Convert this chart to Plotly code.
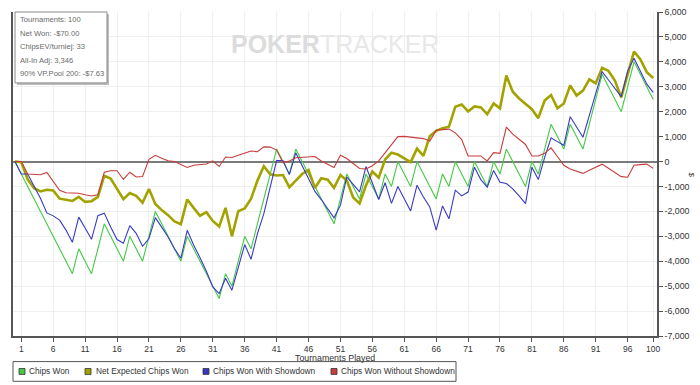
import plotly.graph_objects as go

tournaments = list(range(0, 101))

chips_won = [0, -500, -1000, -1500, -2000, -2500, -3000, -3500, -4000, -4500,
             -3500, -4000, -4500, -3500, -2500, -3000, -3500, -4000, -3000, -3500,
             -4000, -3000, -2000, -2500, -3000, -3500, -4000, -3000, -3500, -4000,
             -4500, -5000, -5500, -4500, -5000, -4000, -3000, -3500, -2500, -1500,
             -500, 500, 0, -500, 500, 0, -500, -1000, -1500, -2000,
             -2500, -1500, -500, -1000, -1500, -500, -1000, -1500, -500, -1000,
             0, -500, -1000, 0, -500, -1000, -1500, -500, -1000, 0,
             -500, -1000, 0, -500, -1000, 0, -500, 500, 0, -500,
             -1000, 0, -500, 500, 1500, 1000, 500, 1500, 1000, 500,
             1500, 2500, 3500, 3000, 2500, 2000, 3000, 4000, 3500, 3000,
             2500]

net_expected = [0, -30, -720, -1070, -1200, -1130, -1160, -1490, -1530, -1580,
                -1420, -1620, -1590, -1420, -570, -680, -1095, -1510, -1265, -1380,
                -1650, -1100, -1700, -1950, -2150, -2400, -2510, -1520, -1860, -2175,
                -2030, -2385, -2610, -1860, -3000, -1990, -1885, -1490, -765, -185,
                -510, -560, -540, -1030, -765, -500, -340, -1060, -670, -725,
                -1055, -540, -765, -1440, -1685, -960, -400, -650, 80, 355,
                280, 130, -25, 515, 225, 1015, 1230, 1340, 1400, 2200,
                2290, 2010, 2210, 2170, 1900, 2330, 2135, 3450, 2800, 2530,
                2330, 2100, 1740, 2450, 2670, 2135, 2330, 3055, 2650, 2845,
                3300, 3135, 3760, 3635, 3250, 2570, 3500, 4415, 4100, 3585,
                3355]

with_showdown = [0, -500, -500, -980, -1470, -2060, -2180, -2350, -2750, -3240,
                 -2230, -2670, -3120, -2170, -2070, -2630, -3130, -3280, -2570, -2880,
                 -3400, -3090, -2250, -2630, -3030, -3500, -3880, -2760, -3350, -3860,
                 -4400, -5030, -5300, -4680, -5160, -4250, -3330, -3920, -2895, -2090,
                 -1080, 40, 40, -525, 350, -160, -680, -1200, -1525, -1900,
                 -2260, -1750, -620, -920, -1220, -200, -830, -1525, -850, -1680,
                 -1000, -1510, -1980, -950, -1420, -1820, -2750, -1780, -2300, -1150,
                 -1380, -1225, -225, -725, -1025, -355, -830, -880, -1100, -1380,
                 -1685, -225, -725, 170, 950, 800, 650, 1800, 1390, 975,
                 1850, 2730, 3605, 3270, 2940, 2605, 3630, 4145, 3625, 3105,
                 2775]

without_showdown = [0, 0, -500, -520, -530, -440, -820, -1150, -1250, -1260,
                    -1270, -1330, -1380, -1330, -430, -370, -370, -720, -430, -620,
                    -600, 90, 250, 130, 30, 0, -120, -240, -150, -140,
                    -100, 30, -200, 180, 160, 250, 330, 420, 395, 590,
                    580, 460, -40, 25, 150, 160, 180, 200, 25, -100,
                    -240, 250, 120, -80, -280, -300, -170, 25, 350, 680,
                    1000, 1010, 980, 950, 920, 820, 1250, 1280, 1300, 1150,
                    880, 225, 225, 225, 25, 355, 330, 1380, 1100, 880,
                    685, 225, 225, 330, 550, 200, -150, -300, -390, -475,
                    -350, -230, -105, -270, -440, -605, -630, -145, -125, -105,
                    -275]

series_names = ["Chips Won", "Net Expected Chips Won",
                "Chips Won With Showdown", "Chips Won Without Showdown"]
series_colors = ["#45c845", "#a3a300", "#3838c8", "#c83c3c"]
series_widths = [1.1, 2.6, 1.1, 1.1]

y_tick_vals = [6000, 5000, 4000, 3000, 2000, 1000, 0, -1000, -2000, -3000,
               -4000, -5000, -6000, -7000]
y_tick_text = ["6,000", "5,000", "4,000", "3,000", "2,000", "1,000", "0",
               "-1,000", "-2,000", "-3,000", "-4,000", "-5,000", "-6,000", "-7,000"]
x_tick_vals = [1, 6, 11, 16, 21, 26, 31, 36, 41, 46, 51, 56, 61, 66, 71, 76,
               81, 86, 91, 96, 100]

info_lines = ["Tournaments: 100", "Net Won: -$70.00", "ChipsEV/turniej: 33",
              "All-In Adj: 3,346", "90% VP.Pool 200: -$7.63"]

W, H = 700, 385
L, R, T, B = 13, 657, 7, 336


def px(x):
    return (x - L) / (R - L)


def py(y):
    return (B - y) / (B - T)


fig = go.Figure()
for name, vals, col, w in zip(series_names,
                              [chips_won, net_expected, with_showdown, without_showdown],
                              series_colors, series_widths):
    fig.add_trace(go.Scatter(x=tournaments, y=vals, mode="lines", name=name,
                             line=dict(color=col, width=w), showlegend=False))

FONT = "Liberation Sans, Arial, sans-serif"
shapes = []
annotations = []

# info box with shadow
shapes.append(dict(type="rect", xref="paper", yref="paper",
                   x0=px(17), x1=px(109), y0=py(81), y1=py(9),
                   line=dict(width=0), fillcolor="#bdbdbd", layer="above"))
shapes.append(dict(type="rect", xref="paper", yref="paper",
                   x0=px(15), x1=px(107), y0=py(79), y1=py(7),
                   line=dict(color="#8a8a8a", width=1), fillcolor="white", layer="above"))
for i, t in enumerate(info_lines):
    annotations.append(dict(xref="paper", yref="paper", x=px(18), y=py(15 + i * 13.6),
                            xanchor="left", yanchor="middle", text=t, showarrow=False,
                            font=dict(family=FONT, size=7.6, color="#6a6a6a")))

# watermark
annotations.append(dict(xref="paper", yref="paper", x=px(335), y=py(40),
                        xanchor="center", yanchor="middle", showarrow=False,
                        text='<b><span style="color:#dcdcdc">POKER</span></b>'
                             '<span style="color:#e8e8e8">TRACKER</span>',
                        font=dict(family=FONT, size=25, color="#e0e0e0")))

# axis titles
annotations.append(dict(xref="paper", yref="paper", x=px(335), y=py(358),
                        xanchor="center", yanchor="middle", showarrow=False,
                        text="Tournaments Played",
                        font=dict(family=FONT, size=8.8, color="#333333")))
annotations.append(dict(xref="paper", yref="paper", x=px(692), y=py(172),
                        xanchor="center", yanchor="middle", showarrow=False,
                        text="$", textangle=90,
                        font=dict(family=FONT, size=8, color="#333333")))

# legend (manual)
shapes.append(dict(type="rect", xref="paper", yref="paper",
                   x0=px(13), x1=px(456), y0=py(382), y1=py(362),
                   line=dict(color="#555555", width=1), fillcolor="white", layer="above"))
sq_x = [19, 85, 203, 331]
txt_x = [27, 94, 211, 339]
for sx, tx, name, col in zip(sq_x, txt_x, series_names, series_colors):
    shapes.append(dict(type="rect", xref="paper", yref="paper",
                       x0=px(sx), x1=px(sx + 6), y0=py(375), y1=py(369),
                       line=dict(color="#333333", width=0.8), fillcolor=col, layer="above"))
    annotations.append(dict(xref="paper", yref="paper", x=px(tx), y=py(372),
                            xanchor="left", yanchor="middle", showarrow=False, text=name,
                            font=dict(family=FONT, size=8.3, color="#333333")))

fig.update_layout(
    width=W, height=H,
    margin=dict(l=L, r=W - R, t=T, b=H - B),
    paper_bgcolor="white", plot_bgcolor="white",
    shapes=shapes, annotations=annotations,
    xaxis=dict(range=[-0.3, 100.6], tickvals=x_tick_vals, ticks="outside", ticklen=4,
               tickcolor="#555555", showline=True, linecolor="#555555", linewidth=1.5,
               showgrid=True, gridcolor="#efefef", gridwidth=1, zeroline=False,
               tickfont=dict(family=FONT, size=8.5, color="#333333")),
    yaxis=dict(range=[-7000, 6000], side="right", tickvals=y_tick_vals, ticktext=y_tick_text,
               ticks="outside", ticklen=4, tickcolor="#555555", showline=True,
               linecolor="#555555", linewidth=1.5, mirror=True,
               showgrid=True, gridcolor="#efefef", gridwidth=1,
               zeroline=True, zerolinecolor="#7a7a7a", zerolinewidth=2,
               tickfont=dict(family=FONT, size=8.8, color="#333333")),
)

fig.write_html("out.html", config={"displayModeBar": False},
               post_script="document.body.style.margin='0';document.body.style.padding='0';")
